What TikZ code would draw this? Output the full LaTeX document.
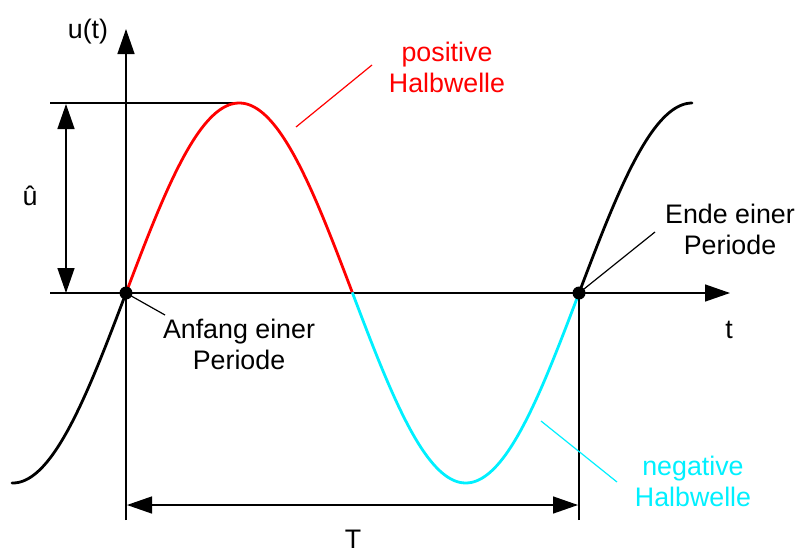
\documentclass[tikz,border=0pt]{standalone}
\usepackage{fontspec}
\setmainfont{Liberation Sans}
\usetikzlibrary{arrows.meta}
\definecolor{pcol}{RGB}{255,0,0}
\definecolor{ncol}{RGB}{0,240,255}
\tikzset{
  thinline/.style={line width=1.4pt, black},
  curve/.style={line width=2.8pt, line cap=round},
  leader/.style={line width=1.2pt},
  tip/.style={-{Triangle[length=25pt,width=17pt]}},
  dtip/.style={{Triangle[length=25pt,width=17pt]}-{Triangle[length=25pt,width=17pt]}},
  lbl/.style={font=\fontsize{26.8}{31}\selectfont, align=center, inner sep=0pt},
  dot/.style={circle, fill=black, inner sep=0pt, minimum size=13pt}
}
\begin{document}
\begin{tikzpicture}[x=1pt,y=1pt]
\useasboundingbox (0,0) rectangle (798,-549);
% reference lines
\coordinate (Ampl) at (50,-103);
\coordinate (Peak) at (240,-103);
\draw[thinline] (Ampl) -- (Peak);
\coordinate (Ybot) at (126,-520);
\coordinate (Ytop) at (126,-29);
\draw[thinline, tip] (Ybot) -- (Ytop);
\coordinate (Xl) at (50,-293);
\coordinate (Xr) at (730,-293);
\draw[thinline, tip] (Xl) -- (Xr);
\coordinate (Eb) at (579,-520);
\coordinate (Et) at (579,-293);
\draw[thinline] (Eb) -- (Et);
% amplitude arrow
\coordinate (Ua) at (66,-293);
\coordinate (Ub) at (66,-104);
\draw[thinline, dtip] (Ua) -- (Ub);
% period arrow
\coordinate (Ta) at (127,-505);
\coordinate (Tb) at (578,-505);
\draw[thinline, dtip] (Ta) -- (Tb);
% curves
\draw[curve, black] plot[domain=12:126, samples=60] (\x, {-293+190*sin((\x-126)/453*360)});
\draw[curve, pcol] plot[domain=126:352.5, samples=100] (\x, {-293+190*sin((\x-126)/453*360)});
\draw[curve, ncol] plot[domain=352.5:579, samples=100] (\x, {-293+190*sin((\x-126)/453*360)});
\draw[curve, black] plot[domain=579:692, samples=60] (\x, {-293+190*sin((\x-126)/453*360)});
% dots
\node[dot] (O) at (126,-293) {};
\node[dot] (E) at (579,-293) {};
% labels
\node[lbl] (ut) at (88,-32) {u(t)};
\node[lbl] (uh) at (30,-196) {û};
\node[lbl] (t) at (729,-330) {t};
\node[lbl, anchor=base] (T) at (353,-548) {T};
\node[lbl] (anf) at (239,-344) {Anfang einer\\Periode};
\node[lbl] (end) at (730,-229) {Ende einer\\Periode};
\node[lbl, text=pcol] (pos) at (447,-67) {positive\\Halbwelle};
\node[lbl, text=ncol] (neg) at (693,-481) {negative\\Halbwelle};
% leader lines
\coordinate (anfL) at (165,-315);
\draw[leader] (O.center) -- (anfL);
\coordinate (endL) at (655,-232);
\draw[leader] (E.center) -- (endL);
\coordinate (posA) at (296,-127);
\coordinate (posB) at (372,-65);
\draw[leader, pcol] (posA) -- (posB);
\coordinate (negA) at (541,-421);
\coordinate (negB) at (617,-482);
\draw[leader, ncol] (negA) -- (negB);
\end{tikzpicture}
\end{document}
